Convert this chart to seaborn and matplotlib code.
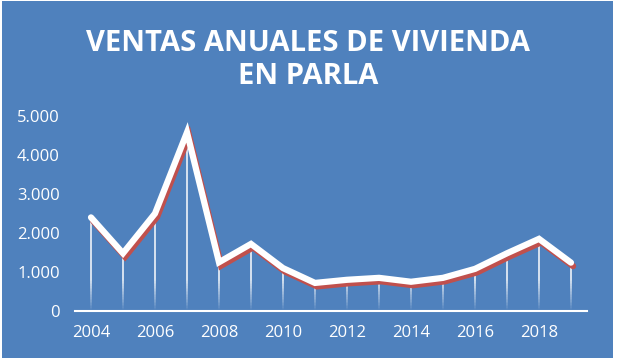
import numpy as np
import pandas as pd
import matplotlib
matplotlib.use("Agg")
import matplotlib.pyplot as plt
import matplotlib.patheffects as pe
from matplotlib.patches import Rectangle
import seaborn as sns

# Datos
anios = list(range(2004, 2020))
ventas = [2400, 1480, 2500, 4580, 1250, 1720, 1100, 720,
          800, 850, 750, 850, 1080, 1480, 1850, 1240]
etiquetas_x = ["2004", "2006", "2008", "2010", "2012", "2014", "2016", "2018"]
etiquetas_y = ["0", "1.000", "2.000", "3.000", "4.000", "5.000"]

df = pd.DataFrame({"anio": anios, "ventas": ventas})

AZUL = "#4F81BD"
ROJO = "#C0504D"

sns.set_style("white")
plt.rcParams["font.family"] = ["Open Sans", "DejaVu Sans"]

fig = plt.figure(figsize=(6.17, 3.62), dpi=100)
fig.patch.set_facecolor("white")
fig.patches.append(Rectangle((2 / 617, 4 / 362), 611 / 617, 357 / 362,
                             transform=fig.transFigure, facecolor=AZUL,
                             edgecolor="none", zorder=-10))

ax = fig.add_axes([75 / 617, (362 - 311) / 362, 512 / 617, 195 / 362])
ax.set_facecolor("none")
ax.set_zorder(5)

# Líneas verticales con degradado hacia el eje
n_seg = 20
fade_top = 800
for i in range(n_seg):
    lo = fade_top * i / n_seg
    hi = fade_top * (i + 1) / n_seg
    ymax = np.minimum(df["ventas"], hi)
    ax.vlines(df["anio"], lo, ymax, colors="white", linewidth=1.2,
              alpha=(i + 0.5) / n_seg * 0.9, zorder=2)
ax.vlines(df["anio"], fade_top, df["ventas"], colors="white",
          linewidth=1.2, alpha=0.9, zorder=2)

sns.lineplot(data=df, x="anio", y="ventas", ax=ax, color="white",
             linewidth=4.5, zorder=3, solid_capstyle="round",
             solid_joinstyle="miter",
             path_effects=[pe.SimpleLineShadow(offset=(1.5, -2.5),
                                               shadow_color=ROJO, alpha=1),
                           pe.Normal()])

ax.set_xlim(2003.5, 2019.5)
ax.set_ylim(0, 5000)
ax.set_xticks([int(t) for t in etiquetas_x])
ax.set_xticklabels(etiquetas_x)
ax.set_yticks(range(0, 5001, 1000))
ax.set_yticklabels(etiquetas_y)
ax.tick_params(colors="white", labelsize=12, length=0)
ax.tick_params(axis="x", pad=10)
ax.tick_params(axis="y", pad=11)
ax.set_xlabel("")
ax.set_ylabel("")
for s in ["top", "right", "left"]:
    ax.spines[s].set_visible(False)
ax.spines["bottom"].set_color("white")
ax.spines["bottom"].set_linewidth(1.5)

fig.text(0.5, 1 - 60 / 362, "VENTAS ANUALES DE VIVIENDA\nEN PARLA",
         ha="center", va="center", color="white", fontsize=21,
         fontweight="bold", linespacing=1.15)

fig.savefig("out.png", dpi=100, facecolor=fig.get_facecolor())
